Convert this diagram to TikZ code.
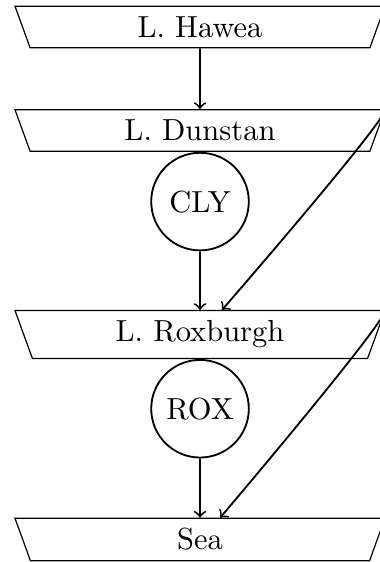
\documentclass[tikz,border=0pt]{standalone}
\usetikzlibrary{shapes.geometric}
\begin{document}
\begin{tikzpicture}[
  lake/.style={draw, trapezium, trapezium left angle=110, trapezium right angle=110,
    trapezium stretches body, minimum width=121.3pt, inner sep=0.3333em},
  stn/.style={draw, circle, semithick, minimum size=32pt, inner sep=0.3333em, anchor=north},
  flow/.style={->, semithick}
]
\useasboundingbox (0pt,0pt) rectangle (124.26pt,-184.26pt);
\node[lake] (haw) at (65.57pt,-8.85pt) {L. Hawea};
\node[lake] (dun) at (65.57pt,-42.79pt) {L. Dunstan};
\node[stn] (cly) at (dun.south) {CLY};
\node[lake] (rox) at (65.57pt,-109.67pt) {L. Roxburgh};
\node[stn] (roxs) at (rox.south) {ROX};
\node[lake] (sea) at (65.57pt,-176.9pt) {Sea};
\draw[flow] (haw) -- (dun);
\draw[flow] (cly) -- (rox);
\draw[flow] (roxs) -- (sea);
\draw[flow] (dun.top right corner) to[out=-108, in=49, out looseness=0.2, in looseness=0.1] ([xshift=7.2pt]rox.north);
\draw[flow] (rox.top right corner) to[out=-108, in=49, out looseness=0.2, in looseness=0.1] ([xshift=6.6pt]sea.north);
\end{tikzpicture}
\end{document}
